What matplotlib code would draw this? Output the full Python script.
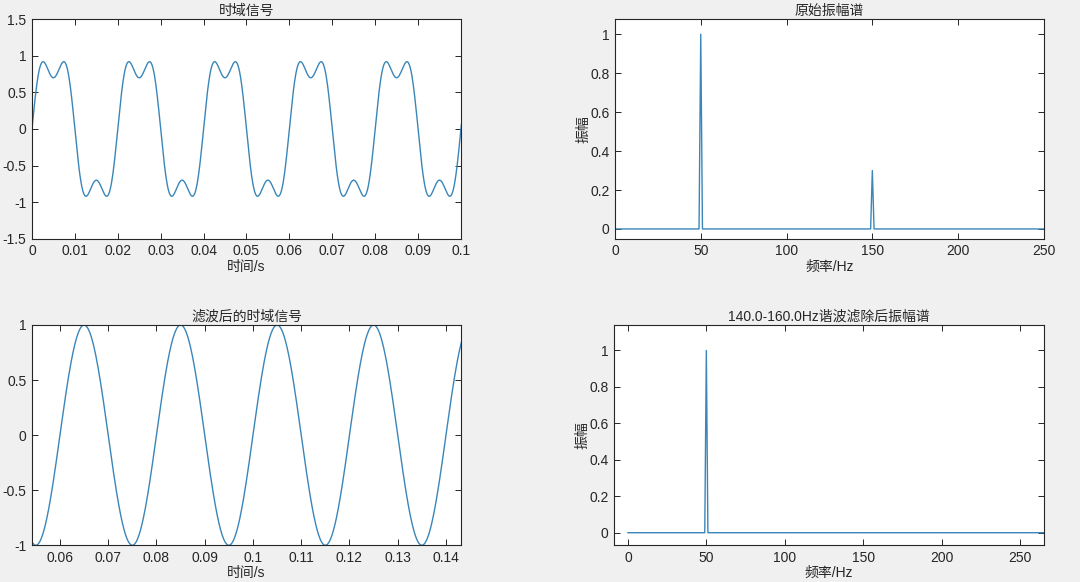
import numpy as np
import matplotlib
matplotlib.use('Agg')
from matplotlib import pyplot as plt

plt.rcParams['font.family'] = ['Liberation Sans', 'Noto Sans CJK SC', 'DejaVu Sans']
plt.rcParams['axes.unicode_minus'] = False

# signal components
sig_freqs = [50, 150]      # Hz
sig_amps = [1.0, 0.3]
fs = 10000                 # sampling rate
duration = 1.0             # s
stop_band = [140.0, 160.0] # removed harmonic band

# axis settings
tl_xticks = [0, 0.01, 0.02, 0.03, 0.04, 0.05, 0.06, 0.07, 0.08, 0.09, 0.1]
tl_yticks = [-1.5, -1, -0.5, 0, 0.5, 1, 1.5]
bl_xticks = [0.06, 0.07, 0.08, 0.09, 0.1, 0.11, 0.12, 0.13, 0.14]
bl_yticks = [-1, -0.5, 0, 0.5, 1]
f_xticks = [0, 50, 100, 150, 200, 250]
f_yticks = [0, 0.2, 0.4, 0.6, 0.8, 1]

t = np.arange(0, duration, 1 / fs)
x = np.zeros_like(t)
for f, a in zip(sig_freqs, sig_amps):
    x += a * np.sin(2 * np.pi * f * t)

N = len(x)
X = np.fft.fft(x)
freq = np.arange(N) * fs / N
half = N // 2
amp = np.abs(X[:half]) * 2 / N

# band removal (both sides of the spectrum)
Xf = X.copy()
mask = ((freq >= stop_band[0]) & (freq <= stop_band[1])) | \
       ((fs - freq >= stop_band[0]) & (fs - freq <= stop_band[1]))
Xf[mask] = 0
xf = np.real(np.fft.ifft(Xf))
amp_f = np.abs(Xf[:half]) * 2 / N

line_c = '#3a86b9'
edge_c = '#262626'
txt_c = '#262626'

fig = plt.figure(figsize=(10.8, 5.82), dpi=100)
fig.patch.set_facecolor('#f0f0f0')

def style(ax):
    ax.set_facecolor('white')
    for s in ax.spines.values():
        s.set_color(edge_c)
        s.set_linewidth(0.8)
    ax.tick_params(direction='in', top=True, right=True, length=4, width=0.7,
                   colors=edge_c, labelcolor=txt_c, labelsize=10, pad=4)

def lab(v):
    return '%g' % v

ax1 = fig.add_axes([0.0296, 0.5899, 0.3972, 0.377])
ax1.plot(t, x, color=line_c, lw=1.0)
ax1.set_xlim(0, 0.1)
ax1.set_ylim(-1.5, 1.5)
ax1.set_xticks(tl_xticks, [lab(v) for v in tl_xticks])
ax1.set_yticks(tl_yticks, [lab(v) for v in tl_yticks])
ax1.set_title('时域信号', fontsize=10, color=txt_c, pad=3)
ax1.set_xlabel('时间/s', fontsize=10, color=txt_c, labelpad=1)
style(ax1)

ax2 = fig.add_axes([0.5694, 0.5899, 0.3972, 0.377])
ax2.plot(freq[:half], amp, color=line_c, lw=1.0)
ax2.set_xlim(0, 250)
ax2.set_ylim(-0.05, 1.077)
ax2.set_xticks(f_xticks, [lab(v) for v in f_xticks])
ax2.set_yticks(f_yticks, [lab(v) for v in f_yticks])
ax2.set_title('原始振幅谱', fontsize=10, color=txt_c, pad=3)
ax2.set_xlabel('频率/Hz', fontsize=10, color=txt_c, labelpad=1)
ax2.set_ylabel('振幅', fontsize=10, color=txt_c, labelpad=0)
style(ax2)

ax3 = fig.add_axes([0.0296, 0.0631, 0.3972, 0.3785])
ax3.plot(t, xf, color=line_c, lw=1.0)
ax3.set_xlim(0.0542, 0.1431)
ax3.set_ylim(-1, 1)
ax3.set_xticks(bl_xticks, [lab(v) for v in bl_xticks])
ax3.set_yticks(bl_yticks, [lab(v) for v in bl_yticks])
ax3.set_title('滤波后的时域信号', fontsize=10, color=txt_c, pad=3)
ax3.set_xlabel('时间/s', fontsize=10, color=txt_c, labelpad=1)
style(ax3)

ax4 = fig.add_axes([0.5685, 0.0631, 0.3981, 0.3785])
ax4.plot(freq[:half], amp_f, color=line_c, lw=1.0)
ax4.set_xlim(-8.9, 265.3)
ax4.set_ylim(-0.069, 1.14)
ax4.set_xticks(f_xticks, [lab(v) for v in f_xticks])
ax4.set_yticks(f_yticks, [lab(v) for v in f_yticks])
ax4.set_title('%.1f-%.1fHz谐波滤除后振幅谱' % (stop_band[0], stop_band[1]),
              fontsize=10, color=txt_c, pad=3)
ax4.set_xlabel('频率/Hz', fontsize=10, color=txt_c, labelpad=1)
ax4.set_ylabel('振幅', fontsize=10, color=txt_c, labelpad=0)
style(ax4)

fig.savefig('out.png', dpi=100, facecolor=fig.get_facecolor())
